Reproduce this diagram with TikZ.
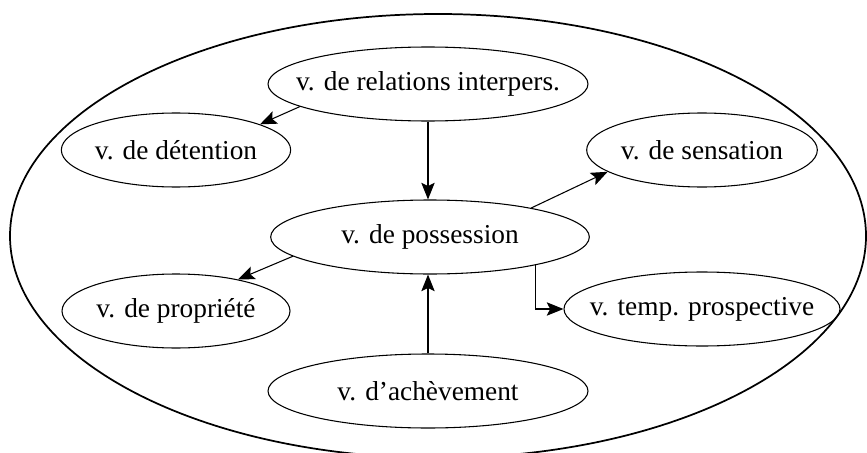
\documentclass[tikz,border=0pt]{standalone}
\usepackage{fontspec}
\setmainfont{Liberation Serif}
\usetikzlibrary{shapes.geometric,arrows.meta}
\begin{document}
\begin{tikzpicture}[x=0.75pt,y=-0.75pt,
  vb/.style={ellipse,draw,line width=0.8pt,inner sep=0pt,minimum height=55.5pt,
    font=\fontsize{20.5}{24}\selectfont},
  arr/.style={line width=0.8pt,-{Stealth[length=12.5pt,width=10pt,inset=2.5pt]}}]
\useasboundingbox (0,0) rectangle (867,453);
\clip (0,0) rectangle (867,453);
\draw[line width=1.3pt] (438,236) ellipse [x radius=428, y radius=222];
\node[vb,minimum width=240pt] (rel) at (428,84) {\makebox[0pt]{v. de relations interpers.}};
\node[vb,minimum width=172pt] (det) at (176,150) {\makebox[0pt]{v. de détention}};
\node[vb,minimum width=173pt] (sen) at (702,150) {\makebox[0pt]{v. de sensation}};
\node[vb,minimum width=239pt] (pos) at (430,237) {\makebox[0pt]{v. de possession}};
\node[vb,minimum width=171pt] (pro) at (176,311) {\makebox[0pt]{v. de propriété}};
\node[vb,minimum width=207pt] (tp) at (702,309) {\makebox[0pt]{v. temp. prospective}};
\node[vb,minimum width=240pt] (ach) at (428,391) {\makebox[0pt]{v. d’achèvement}};
\draw[arr] (rel.190) -- (det.17);
\draw[arr] (rel.south) -- (rel.south |- pos.north);
\draw[arr] (pos.16.5) -- (sen.193);
\draw[arr] (pos.345) |- (tp.west);
\draw[arr] (pos.188) -- (pro.27);
\draw[arr] (ach.north) -- (ach.north |- pos.south);
\end{tikzpicture}
\end{document}
